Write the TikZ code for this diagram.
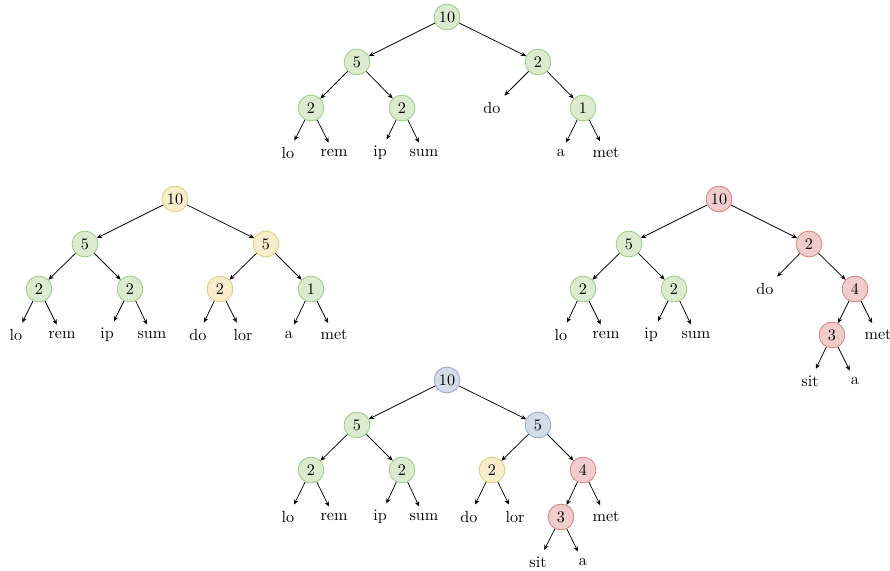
\documentclass[tikz,border=0pt]{standalone}
\usetikzlibrary{arrows.meta}
\definecolor{gfill}{HTML}{DCEBD0}
\definecolor{gline}{HTML}{9CCB84}
\definecolor{yfill}{HTML}{F5EDCB}
\definecolor{yline}{HTML}{DEC97E}
\definecolor{rfill}{HTML}{F0CCCC}
\definecolor{rline}{HTML}{D88080}
\definecolor{bfill}{HTML}{D4DCEA}
\definecolor{bline}{HTML}{90A8CC}
\begin{document}
\begin{tikzpicture}[x=0.62pt,y=-0.62pt,
  nd/.style={circle,line width=0.5pt,minimum size=16pt,inner sep=0pt},
  gn/.style={nd,fill=gfill,draw=gline},
  yn/.style={nd,fill=yfill,draw=yline},
  rn/.style={nd,fill=rfill,draw=rline},
  bn/.style={nd,fill=bfill,draw=bline},
  lf/.style={inner sep=4pt},
  ed/.style={-{Stealth[length=3.2pt,width=2.8pt]},line width=0.45pt}]
\useasboundingbox (0,0) rectangle (890,571);

% ---------- Tree A (top) ----------
\node[gn] (a0) at (447,17) {10};
\node[gn] (a1) at (357,62) {5};
\node[gn] (a2) at (538,62) {2};
\node[gn] (a11) at (311,108) {2};
\node[gn] (a12) at (402,108) {2};
\node[lf] (a21) at (492,108) {do};
\node[gn] (a22) at (583,108) {1};
\node[lf] (a111) at (288,153) {lo};
\node[lf] (a112) at (334,153) {rem};
\node[lf] (a121) at (380,153) {ip};
\node[lf] (a122) at (424,153) {sum};
\node[lf] (a221) at (561,153) {a};
\node[lf] (a222) at (606,153) {met};
\foreach \p/\c in {a0/a1,a0/a2,a1/a11,a1/a12,a2/a21,a2/a22,a11/a111,a11/a112,a12/a121,a12/a122,a22/a221,a22/a222}
  \draw[ed] (\p) -- (\c);

% ---------- Tree B (middle left) ----------
\node[yn] (b0) at (175,199) {10};
\node[gn] (b1) at (85,244) {5};
\node[yn] (b2) at (266,244) {5};
\node[gn] (b11) at (39,289) {2};
\node[gn] (b12) at (130,289) {2};
\node[yn] (b21) at (220,289) {2};
\node[gn] (b22) at (311,289) {1};
\node[lf] (b111) at (16,335) {lo};
\node[lf] (b112) at (62,335) {rem};
\node[lf] (b121) at (107,335) {ip};
\node[lf] (b122) at (152,335) {sum};
\node[lf] (b211) at (198,335) {do};
\node[lf] (b212) at (243,335) {lor};
\node[lf] (b221) at (289,335) {a};
\node[lf] (b222) at (334,335) {met};
\foreach \p/\c in {b0/b1,b0/b2,b1/b11,b1/b12,b2/b21,b2/b22,b11/b111,b11/b112,b12/b121,b12/b122,b21/b211,b21/b212,b22/b221,b22/b222}
  \draw[ed] (\p) -- (\c);

% ---------- Tree C (middle right) ----------
\node[rn] (c0) at (719,199) {10};
\node[gn] (c1) at (629,244) {5};
\node[rn] (c2) at (809,244) {2};
\node[gn] (c11) at (583,289) {2};
\node[gn] (c12) at (674,289) {2};
\node[lf] (c21) at (765,289) {do};
\node[rn] (c22) at (855,289) {4};
\node[lf] (c111) at (561,335) {lo};
\node[lf] (c112) at (606,335) {rem};
\node[lf] (c121) at (651,335) {ip};
\node[lf] (c122) at (696,335) {sum};
\node[rn] (c221) at (832,335) {3};
\node[lf] (c222) at (878,335) {met};
\node[lf] (c2211) at (810,381) {sit};
\node[lf] (c2212) at (855,381) {a};
\foreach \p/\c in {c0/c1,c0/c2,c1/c11,c1/c12,c2/c21,c2/c22,c11/c111,c11/c112,c12/c121,c12/c122,c22/c221,c22/c222,c221/c2211,c221/c2212}
  \draw[ed] (\p) -- (\c);

% ---------- Tree D (bottom) ----------
\node[bn] (d0) at (447,380) {10};
\node[gn] (d1) at (357,425) {5};
\node[bn] (d2) at (538,425) {5};
\node[gn] (d11) at (311,470) {2};
\node[gn] (d12) at (402,470) {2};
\node[yn] (d21) at (492,470) {2};
\node[rn] (d22) at (583,470) {4};
\node[lf] (d111) at (288,517) {lo};
\node[lf] (d112) at (334,517) {rem};
\node[lf] (d121) at (380,517) {ip};
\node[lf] (d122) at (424,517) {sum};
\node[lf] (d211) at (469,517) {do};
\node[lf] (d212) at (515,517) {lor};
\node[rn] (d221) at (561,517) {3};
\node[lf] (d222) at (606,517) {met};
\node[lf] (d2211) at (538,562) {sit};
\node[lf] (d2212) at (583,562) {a};
\foreach \p/\c in {d0/d1,d0/d2,d1/d11,d1/d12,d2/d21,d2/d22,d11/d111,d11/d112,d12/d121,d12/d122,d21/d211,d21/d212,d22/d221,d22/d222,d221/d2211,d221/d2212}
  \draw[ed] (\p) -- (\c);
\end{tikzpicture}
\end{document}
